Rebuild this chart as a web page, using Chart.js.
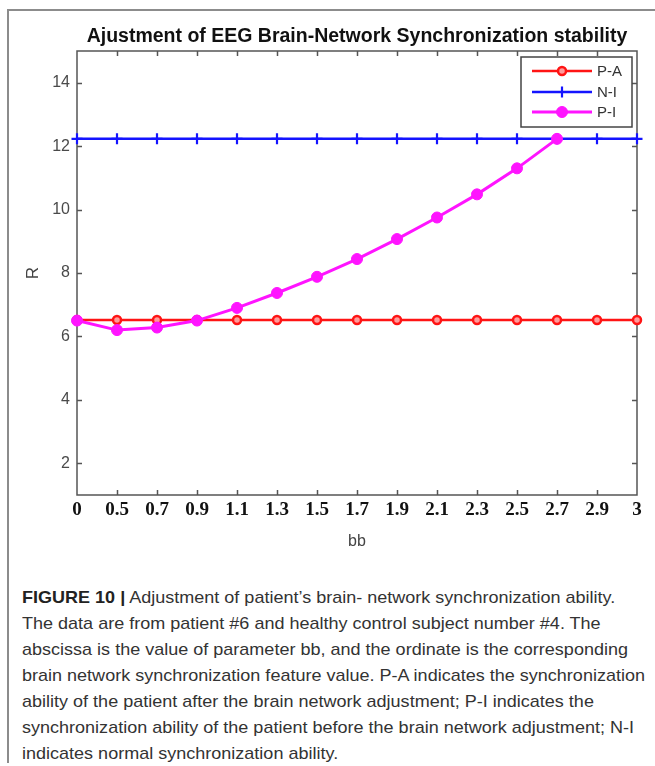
<!DOCTYPE html>
<html>
<head>
<meta charset="utf-8">
<script src="https://cdn.jsdelivr.net/npm/chart.js@4/dist/chart.umd.min.js"></script>
<style>
  html, body { margin: 0; padding: 0; background: #fff; }
  #wrap { position: relative; width: 655px; height: 766px; overflow: hidden; background: #fff; }
  #frameTop { position: absolute; left: 7px; top: 9px; width: 648px; height: 2px; background: #8c8c8c; }
  #frameLeft { position: absolute; left: 7px; top: 9px; width: 2px; height: 754px; background: #8c8c8c; }
  #chartBox { position: absolute; left: 0; top: 0; width: 655px; height: 560px; }
  #caption { position: absolute; left: 22px; top: 585px; font-family: "Liberation Sans", Arial, sans-serif;
             font-size: 17px; line-height: 26px; color: #333; white-space: nowrap; transform-origin: 0 0; }
  #caption span { display: block; }
  #caption b { color: #222; }
</style>
</head>
<body>
<div id="wrap">
  <div id="frameTop"></div>
  <div id="frameLeft"></div>
  <div id="chartBox"><canvas id="c" width="655" height="560"></canvas></div>
  <div id="caption">
    <span><b>FIGURE 10 |</b> Adjustment of patient’s brain- network synchronization ability.</span>
    <span>The data are from patient #6 and healthy control subject number #4. The</span>
    <span>abscissa is the value of parameter bb, and the ordinate is the corresponding</span>
    <span id="widest">brain network synchronization feature value. P-A indicates the synchronization</span>
    <span>ability of the patient after the brain network adjustment; P-I indicates the</span>
    <span>synchronization ability of the patient before the brain network adjustment; N-I</span>
    <span>indicates normal synchronization ability.</span>
  </div>
</div>
<script>
// Parameter bb (categories on the x axis)
const bbLabels = ['0', '0.5', '0.7', '0.9', '1.1', '1.3', '1.5', '1.7', '1.9', '2.1', '2.3', '2.5', '2.7', '2.9', '3'];

// R values per series
const paValues = [6.52, 6.52, 6.52, 6.52, 6.52, 6.52, 6.52, 6.52, 6.52, 6.52, 6.52, 6.52, 6.52, 6.52, 6.52];
const niValues = [12.23, 12.23, 12.23, 12.23, 12.23, 12.23, 12.23, 12.23, 12.23, 12.23, 12.23, 12.23, 12.23, 12.23, 12.23];
const piValues = [6.5, 6.2, 6.28, 6.5, 6.9, 7.37, 7.88, 8.44, 9.07, 9.75, 10.48, 11.3, 12.23, null, null];

// Y axis tick labels
const yTickValues = [2, 4, 6, 8, 10, 12, 14];

const chartTitle = 'Ajustment of EEG Brain-Network Synchronization stability';

const SANS = '"Liberation Sans", Arial, sans-serif';
const SERIF = '"Liberation Serif", "Times New Roman", serif';

// Axis box with inward tick marks on all four sides
const boxPlugin = {
  id: 'axisBox',
  beforeDatasetsDraw(chart) {
    const { ctx, chartArea: a, scales } = chart;
    ctx.save();
    ctx.strokeStyle = '#555';
    ctx.lineWidth = 1.5;
    ctx.strokeRect(a.left, a.top, a.right - a.left, a.bottom - a.top);
    ctx.beginPath();
    const len = 5;
    scales.y.ticks.forEach(t => {
      const y = Math.round(scales.y.getPixelForValue(t.value)) + 0.5;
      ctx.moveTo(a.left, y); ctx.lineTo(a.left + len, y);
      ctx.moveTo(a.right, y); ctx.lineTo(a.right - len, y);
    });
    for (let i = 1; i < bbLabels.length - 1; i++) {
      const x = Math.round(scales.x.getPixelForValue(i)) + 0.5;
      ctx.moveTo(x, a.bottom); ctx.lineTo(x, a.bottom - len);
      ctx.moveTo(x, a.top); ctx.lineTo(x, a.top + len);
    }
    ctx.stroke();
    ctx.restore();
  }
};

// Title centred over the plot area
const plotTitle = {
  id: 'plotTitle',
  afterDraw(chart) {
    const { ctx, chartArea: a } = chart;
    ctx.save();
    ctx.fillStyle = '#111';
    ctx.font = 'bold 19.5px ' + SANS;
    ctx.textAlign = 'center';
    ctx.textBaseline = 'middle';
    ctx.fillText(chartTitle, (a.left + a.right) / 2, 37);
    ctx.restore();
  }
};

// Single marker drawn with a dataset's own point style and colours
function drawMarker(ctx, ds, x, y) {
  ctx.save();
  ctx.fillStyle = ds.pointBackgroundColor;
  ctx.strokeStyle = ds.pointBorderColor;
  ctx.lineWidth = ds.pointBorderWidth;
  Chart.helpers.drawPoint(ctx, {
    pointStyle: ds.pointStyle, radius: ds.pointRadius,
    borderWidth: ds.pointBorderWidth, rotation: 0
  }, x, y);
  ctx.restore();
}

// Boxed legend in the upper-right corner of the plot area
const insetLegend = {
  id: 'insetLegend',
  afterDatasetsDraw(chart) {
    const { ctx, chartArea: a } = chart;
    const bx = a.right - 116, by = a.top + 6, bw = 111, bh = 70;
    ctx.save();
    ctx.fillStyle = '#fff';
    ctx.fillRect(bx, by, bw, bh);
    ctx.strokeStyle = '#444';
    ctx.lineWidth = 1.5;
    ctx.strokeRect(bx, by, bw, bh);
    const rows = [14, 35, 55];
    chart.data.datasets.forEach((ds, i) => {
      const y = by + rows[i];
      ctx.strokeStyle = ds.borderColor;
      ctx.lineWidth = ds.borderWidth;
      ctx.beginPath();
      ctx.moveTo(bx + 11, y); ctx.lineTo(bx + 71, y);
      ctx.stroke();
      drawMarker(ctx, ds, bx + 41, y);
      ctx.fillStyle = '#333';
      ctx.font = '15px ' + SANS;
      ctx.textBaseline = 'middle';
      ctx.textAlign = 'left';
      ctx.fillText(ds.label, bx + 76, y + 1);
    });
    ctx.restore();
  }
};

new Chart(document.getElementById('c'), {
  type: 'line',
  data: {
    labels: bbLabels,
    datasets: [
      {
        label: 'P-A', data: paValues, order: 2,
        borderColor: '#ff1414', borderWidth: 2.5,
        pointStyle: 'circle', pointRadius: 4, pointBorderWidth: 2.5,
        pointBackgroundColor: '#ff9a9a', pointBorderColor: '#ff1414'
      },
      {
        label: 'N-I', data: niValues, order: 1,
        borderColor: '#1414ff', borderWidth: 2.5,
        pointStyle: 'cross', pointRadius: 5.5, pointBorderWidth: 2.2,
        pointBackgroundColor: '#1414ff', pointBorderColor: '#1414ff'
      },
      {
        label: 'P-I', data: piValues, order: 0,
        borderColor: '#ff14ff', borderWidth: 3,
        pointStyle: 'circle', pointRadius: 5.5, pointBorderWidth: 1,
        pointBackgroundColor: '#ff14ff', pointBorderColor: '#ff14ff'
      }
    ]
  },
  options: {
    responsive: false,
    animation: false,
    layout: { padding: { left: 0, right: 18, top: 51, bottom: 0 } },
    elements: { line: { tension: 0 } },
    datasets: { line: { clip: false, spanGaps: false } },
    plugins: {
      legend: { display: false },
      tooltip: { enabled: false },
      title: { display: false }
    },
    scales: {
      x: {
        type: 'category',
        offset: false,
        grid: { display: false, drawTicks: false },
        border: { display: false },
        ticks: {
          color: '#111', padding: 4, autoSkip: false, maxRotation: 0,
          font: { family: SERIF, size: 19, weight: 'bold' }
        },
        title: {
          display: true, text: 'bb', color: '#444',
          font: { family: SANS, size: 16 },
          padding: { top: 0, bottom: 9 }
        },
        afterFit(s) { s.height = 65; }
      },
      y: {
        min: 1, max: 15,
        afterBuildTicks(s) { s.ticks = yTickValues.map(v => ({ value: v })); },
        grid: { display: false, drawTicks: false },
        border: { display: false },
        ticks: { color: '#4a4a4a', padding: 7, font: { family: SANS, size: 16 } },
        title: {
          display: true, text: 'R', color: '#444',
          font: { family: SANS, size: 17 },
          padding: { top: 23, bottom: 0 }
        },
        afterFit(s) { s.width = 77; }
      }
    }
  },
  plugins: [boxPlugin, insetLegend, plotTitle]
});

// Fit caption lines to the column width
const cap = document.getElementById('caption');
const w = document.getElementById('widest').getBoundingClientRect().width;
cap.style.transform = 'scaleX(' + (623 / w) + ')';
</script>
</body>
</html>
